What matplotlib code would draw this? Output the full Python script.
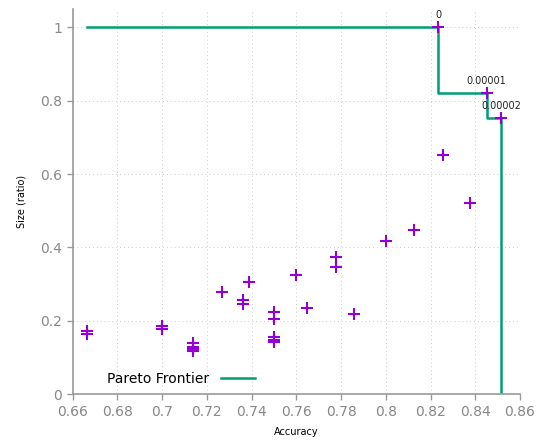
import matplotlib
matplotlib.use("Agg")
from matplotlib import pyplot as plt

# accuracy / size of each pruned model
accuracy = [0.6665, 0.6665, 0.70, 0.70, 0.714, 0.714, 0.714, 0.714, 0.727,
            0.7363, 0.7363, 0.7388, 0.75, 0.75, 0.75, 0.75, 0.75, 0.76,
            0.7648, 0.7776, 0.7776, 0.7857, 0.80, 0.8124, 0.8258, 0.8377,
            0.8234, 0.8451, 0.8515]
size = [0.165, 0.172, 0.186, 0.177, 0.139, 0.13, 0.124, 0.118, 0.278,
        0.257, 0.245, 0.305, 0.225, 0.204, 0.157, 0.148, 0.142, 0.325,
        0.235, 0.374, 0.348, 0.218, 0.419, 0.448, 0.651, 0.521,
        1.0, 0.821, 0.753]

# pareto-optimal points and their thresholds
front_acc = [0.8234, 0.8451, 0.8515]
front_size = [1.0, 0.821, 0.753]
front_labels = ["0", "0.00001", "0.00002"]

# frontier drawn as a staircase from the leftmost model down to the axis
step_acc = [0.6665] + front_acc
step_size = front_size + [0.0]

fig = plt.figure(figsize=(5.38, 4.4), dpi=100)
ax = fig.add_axes([0.135, 0.104, 0.8315, 0.8755])

ax.plot(step_acc, step_size, drawstyle="steps-post", color="#009e73",
        lw=1.8, label="Pareto Frontier", zorder=2)
ax.scatter(accuracy, size, marker="+", s=75, color="#9400d3", linewidths=1.5, zorder=3)

for lab, xx, yy in zip(front_labels, front_acc, front_size):
    ax.annotate(lab, (xx, yy), xytext=(0, 5), textcoords="offset points",
                ha="center", va="bottom", fontsize=7, color="#222222")

ax.set_xlim(0.66, 0.86)
ax.set_ylim(0, 1.05)
ax.set_xticks([0.66 + 0.02 * k for k in range(11)])
ax.set_xticklabels(["0.66", "0.68", "0.7", "0.72", "0.74", "0.76", "0.78", "0.8", "0.82", "0.84", "0.86"])
ax.set_yticks([0, 0.2, 0.4, 0.6, 0.8, 1])
ax.set_yticklabels(["0", "0.2", "0.4", "0.6", "0.8", "1"])

ax.grid(True, linestyle=(0, (1, 3)), color="#cccccc", lw=0.7)
ax.set_axisbelow(True)
for s in ["top", "right"]:
    ax.spines[s].set_visible(False)
for s in ["left", "bottom"]:
    ax.spines[s].set_color("#999999")
    ax.spines[s].set_linewidth(1.2)
ax.tick_params(colors="#999999", labelsize=10, length=4, width=1)
for t in ax.get_xticklabels() + ax.get_yticklabels():
    t.set_color("#888888")

ax.set_xlabel("Accuracy", fontsize=7, labelpad=6)
ax.set_ylabel("Size (ratio)", fontsize=7, labelpad=10)

ax.legend(loc="lower left", bbox_to_anchor=(0.05, -0.01), frameon=False,
          markerfirst=False, fontsize=10, handlelength=2.5)

fig.savefig("out.png", dpi=100)
